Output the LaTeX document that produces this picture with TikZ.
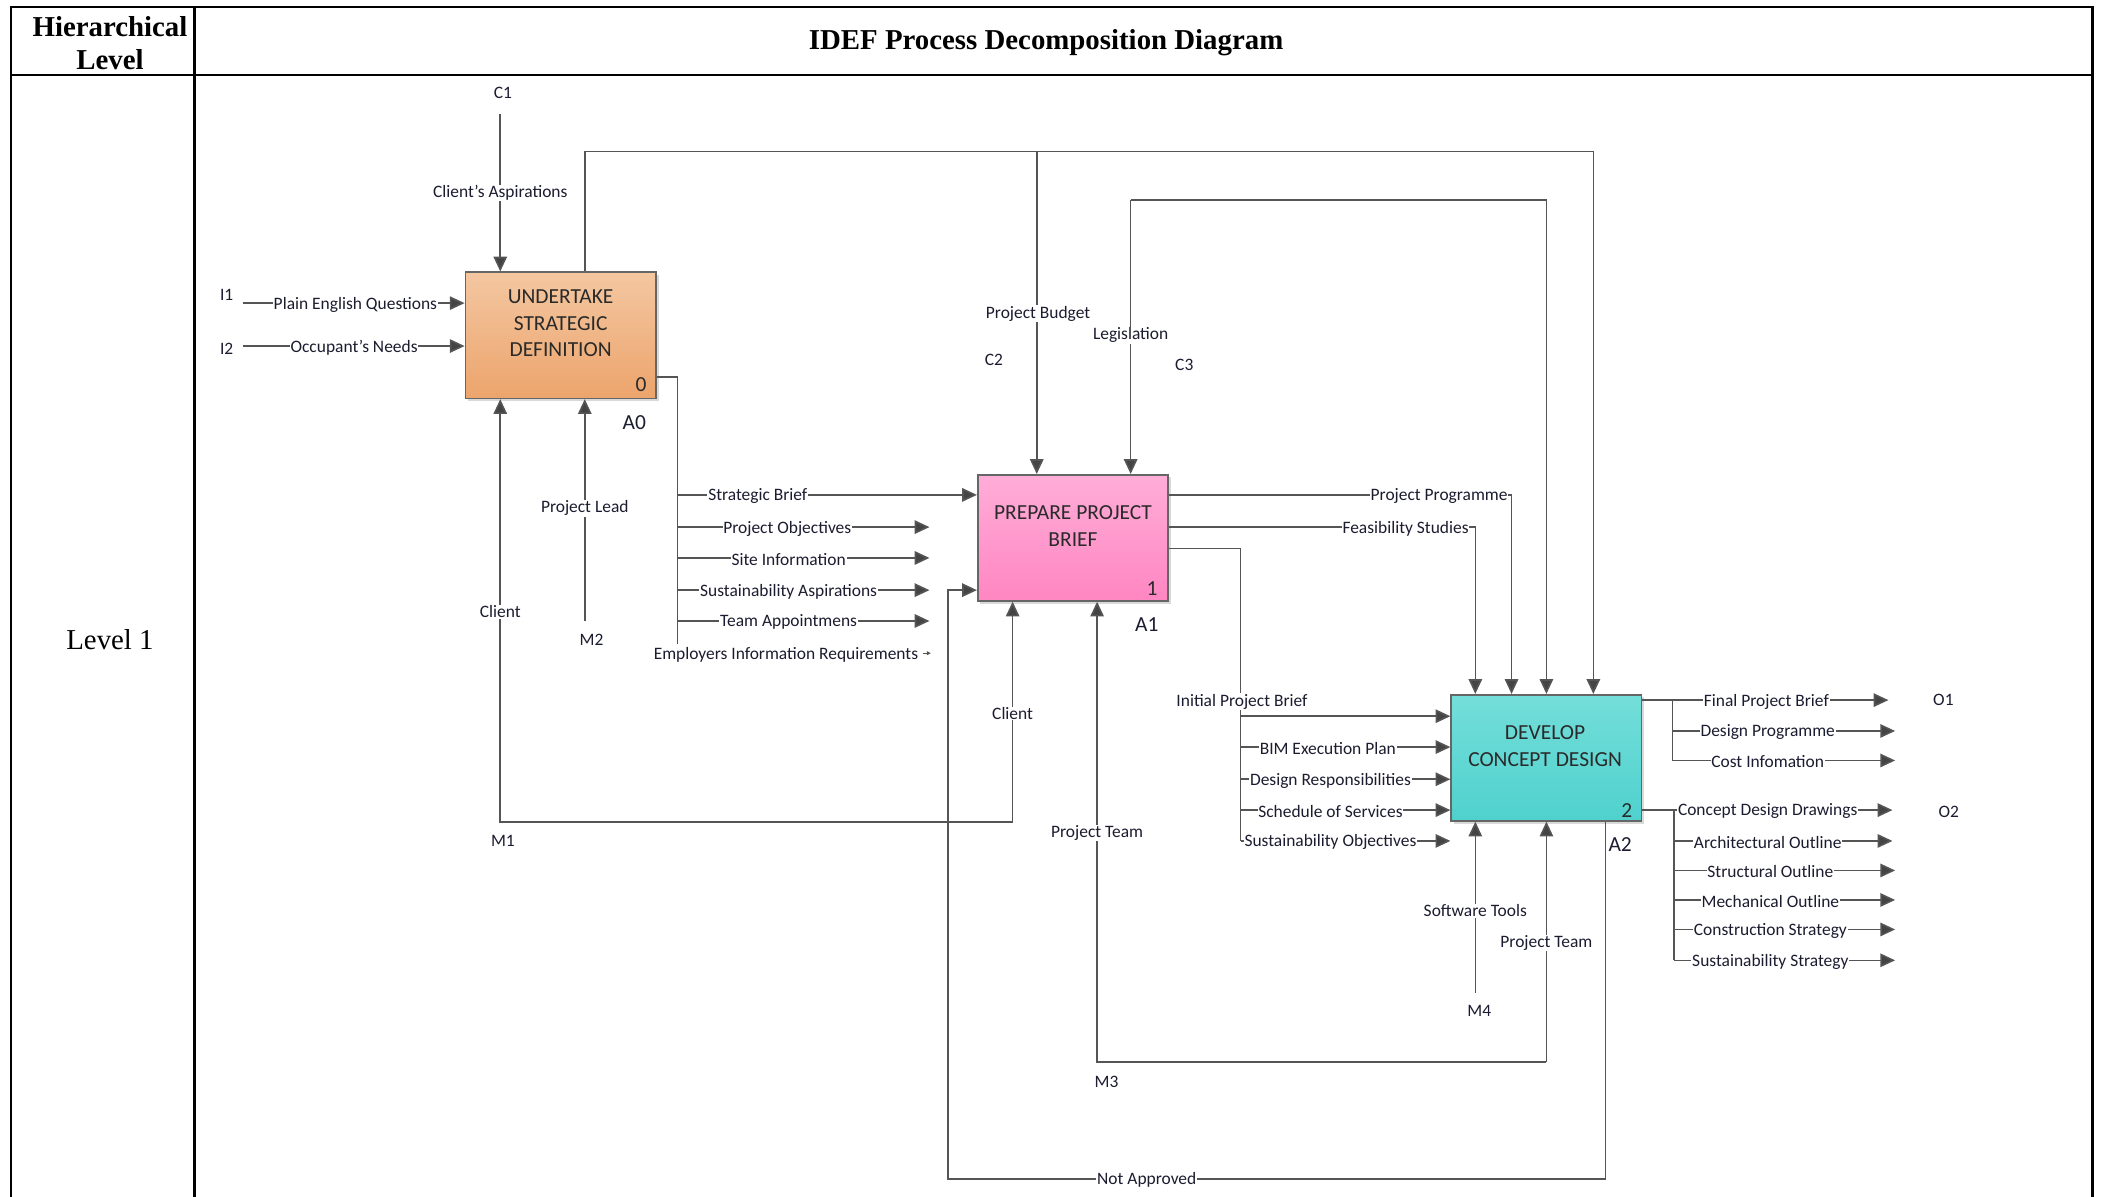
\documentclass[tikz,border=0pt]{standalone}
\usepackage{fontspec}
\setmainfont{Liberation Serif}
\newfontfamily\lab{Carlito}
\usetikzlibrary{arrows.meta,shadows,calc}
\definecolor{ln}{HTML}{555555}
\definecolor{ah}{HTML}{444444}
\definecolor{tx}{HTML}{1C1C30}
\definecolor{bx}{HTML}{2A2A2A}
\definecolor{a0top}{HTML}{F4C7A1}
\definecolor{a0bot}{HTML}{ECA46C}
\definecolor{a1top}{HTML}{FFADD8}
\definecolor{a1bot}{HTML}{FF86C2}
\definecolor{a2top}{HTML}{74DEDA}
\definecolor{a2bot}{HTML}{4FD1CD}
\begin{document}
\begin{tikzpicture}[x=1pt,y=-1pt,
  tbl/.style={line width=1.8pt,black},
  conn/.style={draw=ln,line width=1.2pt},
  arr/.style={conn,-{Triangle[length=11pt,width=10pt,fill=ah]}},
  lbl/.style={font=\lab\fontsize{13}{15}\selectfont,text=tx,fill=white,inner sep=0.6pt},
  tag/.style={font=\lab\fontsize{13}{15}\selectfont,text=tx,inner sep=0pt},
  hdr/.style={font=\bfseries\fontsize{21.5}{25}\selectfont,align=center,inner sep=0pt},
  procbox/.style={draw=ln!90,line width=1.2pt,minimum width=142pt,minimum height=94pt,inner sep=0pt,
     drop shadow={shadow xshift=2pt,shadow yshift=-2pt,opacity=0.3}},
  btxt/.style={font=\lab\fontsize{16}{20}\selectfont,text=bx,align=center,inner sep=0pt},
  bnum/.style={font=\lab\fontsize{16}{18}\selectfont,text=bx,inner sep=0pt},
  blab/.style={font=\lab\fontsize{16}{18}\selectfont,text=tx,inner sep=0pt}
]
\useasboundingbox (0,0) rectangle (1568,892);
\clip (0,0) rectangle (1568,892);
% table
\draw[tbl] (8,905) -- (8,5) -- (1560,5) -- (1560,905);
\draw[tbl] (8,56) -- (1560,56);
\draw[tbl] (145,5) -- (145,905);
\node[hdr] (hh) at (82,32) {Hierarchical\\Level};
\node[hdr] (title) at (780,32) {IDEF Process Decomposition Diagram};
\node[font=\fontsize{21.5}{25}\selectfont,inner sep=0pt] (lvl) at (82,477) {Level 1};

% boxes
\node[procbox,top color=a0top,bottom color=a0bot] (a0) at (418,250) {};
\node[procbox,top color=a1top,bottom color=a1bot] (a1) at (800,401) {};
\node[procbox,top color=a2top,bottom color=a2bot] (a2) at (1153,565) {};
\node[btxt] (a0t) at (418,241) {UNDERTAKE\\STRATEGIC\\DEFINITION};
\node[btxt] (a1t) at (800,392) {PREPARE PROJECT\\BRIEF};
\node[btxt] (a2t) at (1152,556) {DEVELOP\\CONCEPT DESIGN};
\node[bnum] (a0n) at (478,287) {0};
\node[bnum] (a1n) at (859,439) {1};
\node[bnum] (a2n) at (1213,604) {2};
\node[blab] (a0l) at (473,315) {A0};
\node[blab] (a1l) at (855,466) {A1};
\node[blab] (a2l) at (1208,630) {A2};

% ---- A0 inputs
\coordinate (i1s) at (181,226);
\coordinate (i2s) at (181,258);
\draw[arr] (i1s) -- (i1s -| a0.west);
\draw[arr] (i2s) -- (i2s -| a0.west);
% C1
\coordinate (c1s) at (373,85);
\draw[arr] (c1s) -- (c1s |- a0.north);
% top loop
\coordinate (tl) at (436,113);
\draw[arr] (tl |- a0.north) -- (tl) -| (1188,0 |- a2.north);
\coordinate (c2s) at (773,113);
\draw[arr] (c2s) -- (c2s |- a1.north);
% C3 loop
\coordinate (c3s) at (843,149);
\draw[arr] (c3s) -- (c3s |- a1.north);
\draw[arr] (c3s) -| (1153,0 |- a2.north);
% M1 client
\coordinate (m1) at (755,613);
\draw[arr] (m1) -- (m1 |- a1.south);
\draw[arr] (m1) -| (373,0 |- a0.south);
% M2
\coordinate (m2) at (436,463);
\draw[arr] (m2) -- (m2 |- a0.south);
% A0 outputs
\coordinate (j0) at (505,281);
\draw[conn] (a0.east |- j0) -- (j0) -- (505,480);
\draw[arr] (505,369) -- (a1.west |- 0,369);
\coordinate (e1) at (693,393);
\coordinate (e2) at (693,416);
\coordinate (e3) at (693,440);
\coordinate (e4) at (693,463);
\draw[arr] (505,393) -- (e1);
\draw[arr] (505,416) -- (e2);
\draw[arr] (505,440) -- (e3);
\draw[arr] (505,463) -- (e4);
\coordinate (e5) at (694,487);
\draw[draw=ln,line width=0.8pt,-{Triangle[length=3pt,width=3pt]}] (688,487) -- (e5);
% Not approved
\coordinate (na) at (1197,879);
\draw[arr] (na |- a2.south) -- (na) -| (707,440) -- (a1.west |- 0,440);
% M3
\coordinate (m3) at (1153,792);
\draw[arr] (m3) -- (m3 |- a2.south);
\draw[arr] (m3) -| (818,0 |- a1.south);
% M4
\coordinate (m4) at (1100,740);
\draw[arr] (m4) -- (m4 |- a2.south);
% A1 outputs
\draw[arr] (a1.east |- 0,369) -| (1127,0 |- a2.north);
\draw[arr] (a1.east |- 0,393) -| (1100,0 |- a2.north);
\draw[conn] (a1.east |- 0,409) -| (925,627);
\draw[arr] (925,534) -- (a2.west |- 0,534);
\draw[arr] (925,557) -- (a2.west |- 0,557);
\draw[arr] (925,581) -- (a2.west |- 0,581);
\draw[arr] (925,604) -- (a2.west |- 0,604);
\draw[arr] (925,627) -- (a2.west |- 0,627);
% A2 outputs
\coordinate (j2) at (1247,522);
\draw[conn] (a2.east |- j2) -- (j2) -- (1247,567);
\coordinate (o1) at (1408,522);
\coordinate (o1b) at (1413,545);
\coordinate (o1c) at (1413,567);
\draw[arr] (j2) -- (o1);
\draw[arr] (1247,545) -- (o1b);
\draw[arr] (1247,567) -- (o1c);
\coordinate (j3) at (1248,604);
\draw[conn] (a2.east |- j3) -- (j3) -- (1248,716);
\coordinate (o2) at (1411,604);
\coordinate (o2b) at (1411,627);
\coordinate (o2c) at (1413,649);
\coordinate (o2d) at (1413,671);
\coordinate (o2e) at (1413,693);
\coordinate (o2f) at (1413,716);
\draw[arr] (j3) -- (o2);
\draw[arr] (1248,627) -- (o2b);
\draw[arr] (1248,649) -- (o2c);
\draw[arr] (1248,671) -- (o2d);
\draw[arr] (1248,693) -- (o2e);
\draw[arr] (1248,716) -- (o2f);

% ---- labels
\node[tag] (ti1) at (169,220) {I1};
\node[tag] (ti2) at (169,260) {I2};
\node[lbl] (l1) at (265,227) {Plain English Questions};
\node[lbl] (l2) at (264,259) {Occupant’s Needs};
\node[tag] (tc1) at (375,69) {C1};
\node[lbl] (l3) at (373,144) {Client’s Aspirations};
\node[lbl] (l4) at (774,234) {Project Budget};
\node[tag] (tc2) at (741,268) {C2};
\node[lbl] (l5) at (843,250) {Legislation};
\node[tag] (tc3) at (883,272) {C3};
\node[lbl] (l6) at (373,456) {Client};
\node[lbl] (l7) at (755,532) {Client};
\node[tag] (tm1) at (375,627) {M1};
\node[lbl] (l8) at (436,379) {Project Lead};
\node[tag] (tm2) at (441,477) {M2};
\node[lbl] (l9) at (565,370) {Strategic Brief};
\node[lbl] (l10) at (587,394) {Project Objectives};
\node[lbl] (l11) at (588,417) {Site Information};
\node[lbl] (l12) at (588,441) {Sustainability Aspirations};
\node[lbl] (l13) at (588,464) {Team Appointmens};
\node[tag] (l14) at (586,488) {Employers Information Requirements};
\node[lbl] (l15) at (855,880) {Not Approved};
\node[lbl] (l16) at (818,621) {Project Team};
\node[lbl] (l17) at (1153,703) {Project Team};
\node[tag] (tm3) at (825,807) {M3};
\node[lbl] (l18) at (1100,679) {Software Tools};
\node[tag] (tm4) at (1103,754) {M4};
\node[lbl] (l19) at (1073,370) {Project Programme};
\node[lbl] (l20) at (1048,394) {Feasibility Studies};
\node[lbl] (l21) at (926,523) {Initial Project Brief};
\node[lbl] (l22) at (990,558) {BIM Execution Plan};
\node[lbl] (l23) at (992,582) {Design Responsibilities};
\node[lbl] (l24) at (992,605) {Schedule of Services};
\node[lbl] (l25) at (992,628) {Sustainability Objectives};
\node[lbl] (l26) at (1317,523) {Final Project Brief};
\node[lbl] (l27) at (1318,546) {Design Programme};
\node[lbl] (l28) at (1318,568) {Cost Infomation};
\node[tag] (to1) at (1449,522) {O1};
\node[lbl] (l29) at (1318,605) {Concept Design Drawings};
\node[lbl] (l30) at (1318,628) {Architectural Outline};
\node[lbl] (l31) at (1320,650) {Structural Outline};
\node[lbl] (l32) at (1320,672) {Mechanical Outline};
\node[lbl] (l33) at (1320,694) {Construction Strategy};
\node[lbl] (l34) at (1320,717) {Sustainability Strategy};
\node[tag] (to2) at (1453,605) {O2};
\end{tikzpicture}
\end{document}
